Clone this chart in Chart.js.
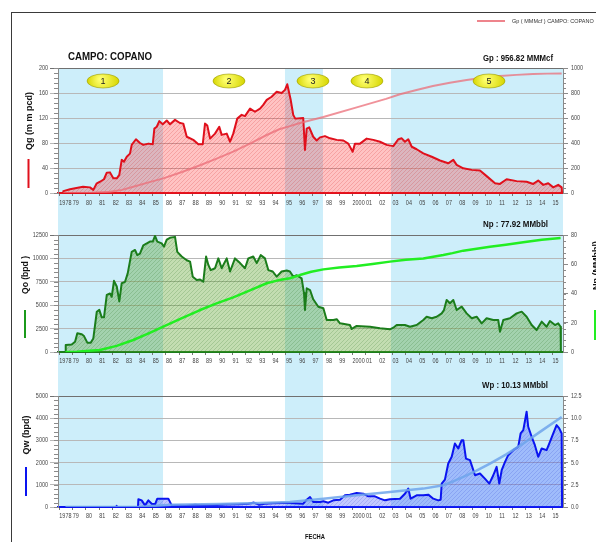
<!DOCTYPE html>
<html>
<head>
<meta charset="utf-8">
<script src="https://cdn.jsdelivr.net/npm/chart.js@4.4.1/dist/chart.umd.min.js"></script>
<style>
  html, body { margin: 0; padding: 0; background: #fff; }
  #page { position: relative; width: 596px; height: 542px; overflow: hidden; }
  #marco { position: absolute; left: 11px; top: 12px; width: 700px; height: 600px;
           border-left: 1.5px solid #3a3a3a; border-top: 1.5px solid #3a3a3a; }
  canvas { position: absolute; left: 0; }
</style>
</head>
<body>
<div id="page">
  <div id="marco"></div>
  <canvas id="gas" width="596" height="212" style="top:0"></canvas>
  <canvas id="aceite" width="596" height="160" style="top:212px"></canvas>
  <canvas id="agua" width="596" height="170" style="top:372px"></canvas>
</div>
<script>
// eje de fechas (años decimales)
const years = [1978, 1979, 1980, 1981, 1982, 1983, 1984, 1985, 1986, 1987, 1988, 1989, 1990,
  1991, 1992, 1993, 1994, 1995, 1996, 1997, 1998, 1999, 2000, 2001, 2002, 2003, 2004, 2005,
  2006, 2007, 2008, 2009, 2010, 2011, 2012, 2013, 2014, 2015];
const yearLabels = ['1978', '79', '80', '81', '82', '83', '84', '85', '86', '87', '88', '89', '90',
  '91', '92', '93', '94', '95', '96', '97', '98', '99', '2000', '01', '02', '03', '04', '05',
  '06', '07', '08', '09', '10', '11', '12', '13', '14', '15'];
const xMin = 1977.9, xMax = 2015.79;

// etapas del campo
const zoneStart = [1977.9, 1994.93, 2002.88];
const zoneEnd = [1985.78, 1997.78, 2015.79];
const stageYears = [1981.28, 1990.73, 1997.03, 2001.08, 2010.24];
const stageLabels = ['1', '2', '3', '4', '5'];

// gas: Qg (mmpcd) y Gp (MMMcf)
const qgYears = [1978.28, 1978.30, 1978.80, 1979.38, 1979.78, 1980.30, 1980.55, 1980.81, 1981.05, 1981.35,
  1981.56, 1981.80, 1982.05, 1982.31, 1982.50, 1982.68, 1982.85, 1983.06, 1983.30, 1983.43, 1983.75,
  1984.05, 1984.30, 1984.68, 1985.01, 1985.13, 1985.31, 1985.50, 1985.76, 1986.06, 1986.30, 1986.68,
  1987.05, 1987.30, 1987.56, 1988.05, 1988.43, 1988.76, 1988.93, 1989.10, 1989.31, 1989.68, 1990.00,
  1990.18, 1990.56, 1990.81, 1991.05, 1991.35, 1991.68, 1991.93, 1992.31, 1992.68, 1993.06, 1993.30,
  1993.56, 1993.93, 1994.31, 1994.68, 1994.93, 1995.10, 1995.35, 1995.55, 1995.70, 1996.30, 1996.43,
  1996.56, 1996.75, 1997.05, 1997.31, 1997.56, 1997.93, 1998.31, 1998.81, 1999.31, 1999.68, 2000.01,
  2000.18, 2000.56, 2001.06, 2001.56, 2002.06, 2002.56, 2003.06, 2003.43, 2003.69, 2003.93, 2004.18,
  2004.44, 2004.81, 2005.31, 2005.94, 2006.56, 2007.18, 2007.56, 2007.81, 2008.31, 2008.94, 2009.56,
  2010.06, 2010.69, 2011.06, 2011.56, 2012.31, 2013.06, 2013.56, 2013.93, 2014.31, 2014.68, 2015.06,
  2015.43, 2015.69, 2015.72];
const qgValues = [0, 3, 6, 8.5, 10, 9, 5, 15.5, 18, 22,
  32.5, 33, 23.5, 23.5, 29, 53, 50, 58, 63, 77, 86,
  80, 77, 79, 78, 103, 106, 115, 110, 116, 110, 117,
  112, 111, 90, 85, 78, 78, 111, 108, 87, 95, 106,
  93, 95, 82, 95, 119, 125, 123, 135, 130, 135, 141,
  149, 154, 162, 160, 165, 174, 150, 125, 119, 120, 69,
  103, 105, 90, 84, 89, 91, 87.5, 85, 84, 79, 66,
  79, 79, 87, 85, 82, 77, 75, 86, 87.5, 82, 86,
  74, 70, 63.5, 58, 52, 47.5, 53, 45, 39.5, 37, 36,
  27, 15.5, 14.5, 22, 19, 18, 14.5, 20, 13, 15.5, 9,
  13, 9, 0];
const gpYears = [1978.3, 1979.5, 1980.5, 1981.8, 1982.7, 1983.55, 1984.7, 1985.8, 1987.2, 1988.56,
  1989.8, 1991.05, 1992.3, 1993.56, 1994.5, 1995.3, 1996.05, 1997.81, 2000.31, 2002.51, 2003.56,
  2004.8, 2006.03, 2007.3, 2008.56, 2009.8, 2011.06, 2012.3, 2013.54, 2014.6, 2015.69];
const gpValues = [0, 1, 3, 10, 25, 50, 85, 117, 168, 222,
  275, 331, 395, 464, 510, 535, 560, 608, 685, 753, 790,
  824, 856, 882, 904, 922, 936, 945, 952, 955, 956.82];

// aceite: Qo (bpd) y Np (MMbbl)
const qoYears = [1978.46, 1978.48, 1978.93, 1979.18, 1979.35, 1979.68, 1979.85, 1980.10, 1980.36, 1980.55,
  1980.81, 1981.00, 1981.18, 1981.35, 1981.56, 1981.80, 1981.93, 1982.10, 1982.31, 1982.50, 1982.68,
  1982.93, 1983.13, 1983.43, 1983.68, 1983.85, 1984.05, 1984.30, 1984.56, 1984.80, 1985.01, 1985.18,
  1985.35, 1985.68, 1985.85, 1986.06, 1986.30, 1986.68, 1986.85, 1987.18, 1987.56, 1987.81, 1988.01,
  1988.31, 1988.56, 1988.80, 1989.01, 1989.18, 1989.36, 1989.68, 1989.93, 1990.18, 1990.56, 1990.81,
  1991.18, 1991.56, 1991.93, 1992.18, 1992.55, 1992.81, 1993.11, 1993.43, 1993.68, 1994.01, 1994.31,
  1994.68, 1995.06, 1995.30, 1995.55, 1995.81, 1996.18, 1996.36, 1996.43, 1996.56, 1996.81, 1997.05,
  1997.43, 1997.81, 1998.06, 1998.56, 1998.81, 1999.06, 1999.80, 1999.94, 2000.31, 2001.31, 2002.06,
  2002.81, 2003.06, 2003.31, 2003.93, 2004.31, 2004.81, 2005.31, 2005.56, 2005.94, 2006.31, 2006.69,
  2006.86, 2007.06, 2007.31, 2007.56, 2007.81, 2008.19, 2008.56, 2008.94, 2009.31, 2009.69, 2010.06,
  2010.56, 2010.93, 2011.06, 2011.31, 2011.81, 2012.31, 2012.69, 2013.06, 2013.44, 2013.81, 2014.19,
  2014.56, 2014.81, 2015.19, 2015.43, 2015.61, 2015.63];
const qoValues = [0, 750, 800, 1100, 2000, 1900, 1700, 1000, 1000, 1450,
  4300, 4500, 3700, 3700, 6100, 6250, 5900, 7600, 7000, 5400, 7350,
  7500, 8400, 10700, 10900, 10350, 10500, 11400, 11600, 11800, 11800, 12400,
  11800, 11600, 11250, 12000, 12200, 12300, 10700, 10200, 9800, 9650, 8050,
  7700, 7750, 7500, 10200, 9300, 8750, 8950, 10000, 8950, 10000, 8600,
  10000, 9500, 8950, 10000, 10200, 9500, 10350, 10000, 8750, 8600, 8050,
  8600, 8700, 8600, 8050, 8200, 7870, 6270, 4490, 6800, 6620, 5630,
  4840, 4670, 3420, 3420, 3500, 3060, 2880, 2460, 2780, 2700, 2530,
  2420, 2600, 2880, 2880, 2700, 2880, 3420, 3770, 3600, 3770, 4130,
  4490, 5560, 5200, 5560, 4490, 4840, 4130, 3600, 3770, 3060, 3600,
  3420, 3420, 2170, 3420, 3600, 4130, 4310, 3770, 2880, 2350, 3240,
  2700, 3310, 2880, 3060, 2700, 0];
const npYears = [1978.46, 1979.31, 1980.0, 1981.05, 1982.3, 1983.55, 1984.7, 1985.8, 1987.2, 1988.56,
  1989.8, 1991.05, 1992.3, 1993.56, 1994.4, 1995.3, 1996.05, 1996.9, 1997.81, 1999.0, 2000.31,
  2001.5, 2002.81, 2004.0, 2005.31, 2006.81, 2007.5, 2008.31, 2010.31, 2011.5, 2012.81, 2014.2, 2015.61];
const npValues = [0, 0.2, 0.7, 1.4, 4.2, 8.2, 12.8, 17.3, 23.2, 28.7,
  33.2, 37.4, 42.2, 47, 49, 50.4, 52.6, 54.9, 56.5, 57.7, 58.8,
  60.2, 61.8, 63, 64, 66.3, 67.6, 69.3, 72, 73.4, 75, 76.8, 77.92];

// agua: Qw (bpd) y Wp (MMbbl)
const qwYears = [1978.46, 1982.25, 1982.3, 1982.35, 1983.90, 1983.93, 1984.18, 1984.43, 1984.68, 1984.93,
  1985.18, 1985.35, 1985.80, 1986.18, 1986.43, 1987.5, 1988.2, 1988.56, 1989.5, 1990.5, 1991.5,
  1992.2, 1992.6, 1993.0, 1993.4, 1994.0, 1994.8, 1995.30, 1996.30, 1996.56, 1996.81, 1997.05,
  1997.56, 1997.81, 1998.18, 1998.56, 1999.06, 1999.43, 1999.80, 2000.31, 2000.81, 2001.18, 2001.68,
  2002.06, 2002.43, 2002.81, 2003.56, 2003.93, 2004.18, 2004.36, 2004.81, 2005.31, 2005.68, 2006.06,
  2006.43, 2006.61, 2006.69, 2006.93, 2007.18, 2007.44, 2007.68, 2007.93, 2008.19, 2008.31, 2008.51,
  2008.81, 2009.19, 2009.56, 2009.93, 2010.26, 2010.56, 2010.81, 2011.01, 2011.19, 2011.44, 2011.68,
  2012.06, 2012.43, 2012.61, 2012.81, 2013.06, 2013.18, 2013.44, 2013.68, 2013.93, 2014.19, 2014.56,
  2014.81, 2015.06, 2015.31, 2015.51, 2015.69, 2015.72];
const qwValues = [0, 0, 50, 0, 10, 350, 300, 75, 300, 150,
  120, 375, 375, 375, 75, 60, 100, 75, 80, 110, 120,
  150, 200, 100, 150, 170, 180, 180, 150, 330, 450, 225,
  225, 255, 195, 300, 330, 527, 557, 630, 600, 480, 480,
  375, 300, 345, 375, 600, 830, 375, 527, 527, 557, 375,
  300, 330, 1054, 1235, 1958, 2260, 2860, 2635, 3010, 3010, 2180,
  2110, 1430, 1506, 1280, 1054, 1430, 1807, 1054, 1657, 2033, 2334,
  2560, 2711, 3313, 3464, 4292, 3614, 3163, 2786, 2260, 2635, 2560,
  2936, 3313, 3690, 3540, 3313, 0];
const wpYears = [1978.46, 1983.9, 1985.0, 1986.4, 1990.0, 1993.0, 1995.3, 1997.81, 2000.31, 2002.81,
  2005.31, 2006.81, 2007.5, 2008.31, 2009.3, 2010.31, 2011.5, 2012.81, 2014.2, 2015.69];
const wpValues = [0, 0, 0.12, 0.25, 0.35, 0.45, 0.56, 0.94, 1.32, 1.69,
  2.07, 2.45, 2.85, 3.39, 4.1, 4.89, 5.9, 7.15, 8.6, 10.13];

const FONT = '"Liberation Sans", Arial, sans-serif';
const pts = (xs, ys) => xs.map((x, i) => ({ x: x, y: ys[i] }));

// relleno rayado
function hatch(base, line) {
  const c = document.createElement('canvas');
  c.width = 4; c.height = 4;
  const g = c.getContext('2d');
  g.fillStyle = base; g.fillRect(0, 0, 4, 4);
  g.strokeStyle = line; g.lineWidth = 0.8;
  g.beginPath(); g.moveTo(0, 4); g.lineTo(4, 0); g.stroke();
  return g.createPattern(c, 'repeat');
}

const franjas = {
  id: 'franjas',
  beforeDraw(chart, args, opts) {
    const { ctx, chartArea, scales: { x } } = chart;
    const top = opts.top === 'area' ? chartArea.top : 0;
    const bottom = opts.bottom === 'area' ? chartArea.bottom : chart.height;
    ctx.save();
    ctx.fillStyle = '#cdeefa';
    zoneStart.forEach((s, i) => {
      const a = Math.max(x.getPixelForValue(s), chartArea.left);
      const b = Math.min(x.getPixelForValue(zoneEnd[i]), chartArea.right);
      ctx.fillRect(a, top, b - a, bottom - top);
    });
    ctx.restore();
  }
};

// marcas menores en los ejes verticales
const menores = {
  id: 'menores',
  afterDraw(chart) {
    const { ctx, chartArea } = chart;
    ctx.save();
    ctx.strokeStyle = '#8a8a8a';
    ctx.lineWidth = 1;
    ['y', 'y1'].forEach(id => {
      const s = chart.scales[id];
      const step = s.options.ticks.stepSize / 5;
      const left = id === 'y';
      const x0 = left ? chartArea.left : chartArea.right;
      ctx.beginPath();
      for (let v = s.min; v <= s.max + 1e-9; v += step) {
        const y = Math.round(s.getPixelForValue(v)) + 0.5;
        ctx.moveTo(x0, y);
        ctx.lineTo(left ? x0 - 4 : x0 + 3, y);
      }
      ctx.stroke();
    });
    ctx.restore();
  }
};

// rótulos de los ejes en letra angosta
const rotulos = {
  id: 'rotulos',
  afterDraw(chart, args, opts) {
    const { ctx, chartArea, scales } = chart;
    const put = (txt, x, y, align) => {
      ctx.save();
      ctx.translate(x, y);
      ctx.scale(0.78, 1);
      ctx.textAlign = align;
      ctx.textBaseline = 'middle';
      ctx.fillText(txt, 0, 0);
      ctx.restore();
    };
    ctx.save();
    ctx.fillStyle = '#444';
    ctx.font = '7px ' + FONT;
    scales.x.ticks.forEach(t => put(t.label, scales.x.getPixelForValue(t.value), chartArea.bottom + opts.dy, 'left'));
    scales.y.ticks.forEach(t => put(t.label, chartArea.left - 10, scales.y.getPixelForValue(t.value), 'right'));
    scales.y1.ticks.forEach(t => put(t.label, chartArea.right + 8, scales.y1.getPixelForValue(t.value), 'left'));
    ctx.restore();
  }
};

function textoVertical(ctx, txt, x, y, maxW) {
  ctx.save();
  ctx.translate(x, y);
  ctx.rotate(-Math.PI / 2);
  ctx.font = 'bold 9px ' + FONT;
  ctx.fillStyle = '#111';
  ctx.textAlign = 'center';
  ctx.textBaseline = 'middle';
  ctx.fillText(txt, 0, 0, maxW);
  ctx.restore();
}

function marca(ctx, color, x, y0, y1) {
  ctx.save();
  ctx.strokeStyle = color;
  ctx.lineWidth = 2;
  ctx.beginPath(); ctx.moveTo(x, y0); ctx.lineTo(x, y1); ctx.stroke();
  ctx.restore();
}

function texto(ctx, txt, x, y, font, maxW) {
  ctx.save();
  ctx.font = font;
  ctx.fillStyle = '#111';
  ctx.textAlign = 'left';
  ctx.textBaseline = 'alphabetic';
  ctx.fillText(txt, x, y, maxW);
  ctx.restore();
}

function escalas(c) {
  return {
    x: {
      type: 'linear', min: xMin, max: xMax,
      afterBuildTicks: s => { s.ticks = years.map(v => ({ value: v })); },
      afterFit: s => { s.height = c.xHeight; },
      ticks: { display: false, autoSkip: false, maxRotation: 0, callback: (v, i) => yearLabels[i] },
      grid: { drawOnChartArea: false, tickLength: 3, color: '#777' },
      border: { color: c.color, width: 2 }
    },
    y: {
      position: 'left', min: 0, max: c.max,
      afterFit: s => { s.width = 58; },
      ticks: { display: false, stepSize: c.step, callback: v => String(v) },
      grid: { color: g => (g.tick && g.tick.value === c.max ? '#707070' : '#b8b8b8'), tickLength: 8 },
      border: { color: '#8a8a8a' }
    },
    y1: {
      position: 'right', min: 0, max: c.max2,
      afterFit: s => { s.width = 33; },
      ticks: { display: false, stepSize: c.step2, callback: c.fmt2 || (v => String(v)) },
      grid: { drawOnChartArea: false, tickLength: 5, color: '#8a8a8a' },
      border: { color: '#8a8a8a' }
    }
  };
}

function panel(id, datasets, c, extra) {
  return new Chart(document.getElementById(id), {
    type: 'line',
    data: { datasets: datasets },
    options: {
      responsive: false,
      animation: false,
      devicePixelRatio: 1,
      layout: { padding: { top: c.top, left: 0, right: 0, bottom: 0 } },
      elements: { point: { radius: 0 }, line: { tension: 0, borderJoinStyle: 'round' } },
      scales: escalas(c),
      plugins: {
        legend: { display: false },
        tooltip: { enabled: false },
        franjas: { top: c.bandTop, bottom: c.bandBottom },
        rotulos: { dy: c.labelDy }
      }
    },
    plugins: [franjas, menores, rotulos, { id: 'extra', afterDraw: extra }]
  });
}

// Gas
panel('gas', [
  { label: 'Gp ( MMMcf ) CAMPO: COPANO', data: pts(gpYears, gpValues), yAxisID: 'y1',
    borderColor: 'rgba(235,110,120,0.75)', borderWidth: 2, fill: false },
  { label: 'Qg', data: pts(qgYears, qgValues), yAxisID: 'y',
    borderColor: '#e0101c', borderWidth: 2, fill: 'origin',
    backgroundColor: hatch('rgba(255,40,40,0.28)', 'rgba(200,0,0,0.22)') }
], { top: 68, xHeight: 19, color: '#e0101c', max: 200, step: 40, max2: 1000, step2: 200,
     bandTop: 'area', bandBottom: 'canvas', labelDy: 10.5 },
chart => {
  const ctx = chart.ctx, x = chart.scales.x;
  texto(ctx, 'CAMPO: COPANO', 68, 60, 'bold 10px ' + FONT, 84);
  texto(ctx, 'Gp : 956.82 MMMcf', 483, 61, 'bold 9px ' + FONT, 70);
  ctx.save();
  ctx.strokeStyle = 'rgba(235,110,120,0.85)';
  ctx.lineWidth = 2;
  ctx.beginPath(); ctx.moveTo(477, 21); ctx.lineTo(505, 21); ctx.stroke();
  ctx.restore();
  ctx.save();
  ctx.font = '5.5px ' + FONT;
  ctx.fillStyle = '#333';
  ctx.fillText('Gp ( MMMcf ) CAMPO: COPANO', 512, 23, 83);
  ctx.restore();
  textoVertical(ctx, 'Qg (m m pcd)', 29.5, 121, 58);
  marca(ctx, '#e0101c', 28.5, 159, 188);
  // óvalos de etapa
  stageYears.forEach((yr, i) => {
    const cx = x.getPixelForValue(yr), cy = 81;
    ctx.save();
    const g = ctx.createRadialGradient(cx - 3, cy - 2, 1, cx, cy, 16);
    g.addColorStop(0, '#ffff70');
    g.addColorStop(1, '#d6d600');
    ctx.fillStyle = g;
    ctx.beginPath(); ctx.ellipse(cx, cy, 16, 7, 0, 0, 2 * Math.PI); ctx.fill();
    ctx.strokeStyle = '#9a9a00'; ctx.lineWidth = 0.6; ctx.stroke();
    ctx.fillStyle = '#222';
    ctx.font = '9px ' + FONT;
    ctx.textAlign = 'center'; ctx.textBaseline = 'middle';
    ctx.fillText(stageLabels[i], cx, cy + 0.5);
    ctx.restore();
  });
});

// Aceite
panel('aceite', [
  { label: 'Np', data: pts(npYears, npValues), yAxisID: 'y1',
    borderColor: '#22ee22', borderWidth: 2.5, fill: false },
  { label: 'Qo', data: pts(qoYears, qoValues), yAxisID: 'y',
    borderColor: '#1b7d1b', borderWidth: 2, fill: 'origin',
    backgroundColor: hatch('rgba(90,160,40,0.36)', 'rgba(40,110,30,0.25)') }
], { top: 23, xHeight: 20, color: '#1b7d1b', max: 12500, step: 2500, max2: 80, step2: 20,
     bandTop: 'canvas', bandBottom: 'canvas', labelDy: 9.5 },
chart => {
  const ctx = chart.ctx;
  texto(ctx, 'Np : 77.92 MMbbl', 483, 15, 'bold 9px ' + FONT, 65);
  textoVertical(ctx, 'Qo (bpd )', 26, 63, 38);
  marca(ctx, '#1b9a1b', 25, 98, 126);
  ctx.save();
  ctx.translate(599, 78);
  ctx.rotate(-Math.PI / 2);
  ctx.font = 'bold 9px ' + FONT;
  ctx.fillStyle = '#111';
  ctx.fillText('Np (MMbbl)', 0, 0);
  ctx.restore();
  marca(ctx, '#22ee22', 595, 98, 128);
});

// Agua
panel('agua', [
  { label: 'Wp', data: pts(wpYears, wpValues), yAxisID: 'y1',
    borderColor: 'rgba(110,165,235,0.85)', borderWidth: 2.5, fill: false },
  { label: 'Qw', data: pts(qwYears, qwValues), yAxisID: 'y',
    borderColor: '#0a14f0', borderWidth: 2, fill: 'origin',
    backgroundColor: hatch('rgba(40,60,255,0.28)', 'rgba(20,30,200,0.2)') }
], { top: 24, xHeight: 35, color: '#0a14f0', max: 5000, step: 1000, max2: 12.5, step2: 2.5,
     fmt2: v => v.toFixed(1), bandTop: 'canvas', bandBottom: 'area', labelDy: 9.5 },
chart => {
  const ctx = chart.ctx;
  texto(ctx, 'Wp : 10.13 MMbbl', 482, 16, 'bold 9px ' + FONT, 66);
  textoVertical(ctx, 'Qw (bpd)', 27, 63, 45);
  marca(ctx, '#0a14f0', 26, 95, 124);
  texto(ctx, 'FECHA', 305, 167, 'bold 6.5px ' + FONT, 20);
});
</script>
</body>
</html>
